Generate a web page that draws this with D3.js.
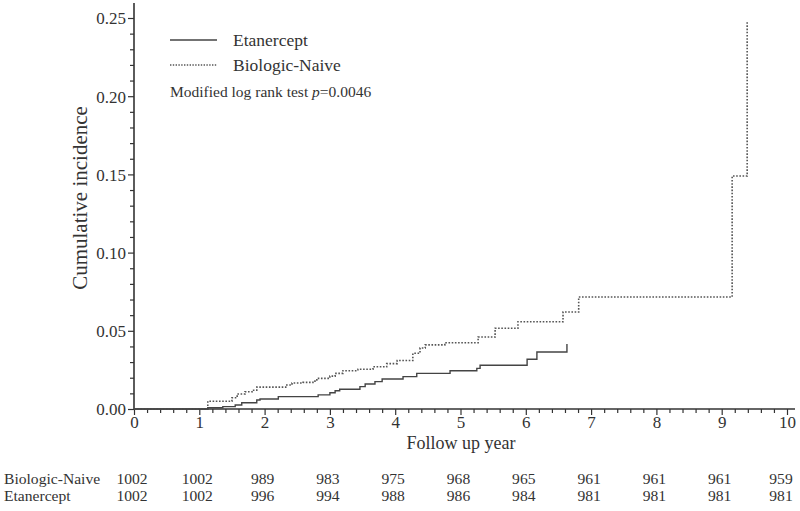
<!DOCTYPE html>
<html>
<head>
<meta charset="utf-8">
<script src="https://cdn.jsdelivr.net/npm/d3@7/dist/d3.min.js"></script>
<style>
html,body{margin:0;padding:0;background:#fff;}
svg{display:block;}
text{font-family:"Liberation Serif","Times New Roman",serif;fill:#333;}
</style>
</head>
<body>
<svg id="chart" width="800" height="511"></svg>
<script>
// Step times (years) and cumulative incidence after each step
const naiveTimes  = [0, 1.13, 1.50, 1.58, 1.70, 1.81, 1.88, 2.34, 2.42, 2.59, 2.74, 2.80, 3.00, 3.08, 3.20, 3.43, 3.66, 3.87, 4.03, 4.27, 4.38, 4.46, 4.76, 5.27, 5.53, 5.88, 6.57, 6.81, 9.16, 9.39];
const naiveValues = [0, 0.005, 0.0072, 0.0096, 0.011, 0.012, 0.014, 0.0153, 0.0166, 0.017, 0.0178, 0.0196, 0.021, 0.0228, 0.0245, 0.0254, 0.027, 0.029, 0.031, 0.0356, 0.039, 0.041, 0.0424, 0.046, 0.0516, 0.0558, 0.062, 0.0716, 0.149, 0.248];
const etanTimes   = [0, 1.13, 1.36, 1.55, 1.65, 1.88, 1.93, 2.21, 2.82, 3.00, 3.08, 3.15, 3.46, 3.54, 3.69, 3.80, 4.12, 4.33, 4.84, 5.25, 5.30, 6.02, 6.17, 6.63];
const etanValues  = [0, 0.0008, 0.0015, 0.0026, 0.004, 0.0058, 0.0064, 0.0079, 0.009, 0.0104, 0.0117, 0.0126, 0.0143, 0.016, 0.0175, 0.0192, 0.0207, 0.0228, 0.0245, 0.026, 0.028, 0.0318, 0.0364, 0.0416];

const xTicks = [0,1,2,3,4,5,6,7,8,9,10];
const yTicks = [0, 0.05, 0.10, 0.15, 0.20, 0.25];
const riskNaive = [1002, 1002, 989, 983, 975, 968, 965, 961, 961, 961, 959];
const riskEtan  = [1002, 1002, 996, 994, 988, 986, 984, 981, 981, 981, 981];
const riskLabels = ["Biologic-Naive", "Etanercept"];
const legendLabels = ["Etanercept", "Biologic-Naive"];

const svg = d3.select("#chart");
const x = d3.scaleLinear().domain([0, 10]).range([134, 787]);
const y = d3.scaleLinear().domain([0, 0.25]).range([409, 18]);
const ink = "#333";

// axes
const yAxis = d3.axisLeft(y).tickValues(yTicks).tickFormat(d3.format(".2f")).tickSize(6).tickSizeOuter(0);
const yMinor = d3.axisLeft(y).tickValues(d3.range(0, 0.26, 0.01).filter(v => Math.abs(v*20 - Math.round(v*20)) > 1e-6)).tickFormat("").tickSize(4).tickSizeOuter(0);
const gy = svg.append("g").attr("transform", "translate(134,0)").call(yAxis);
svg.append("g").attr("transform", "translate(134,0)").call(yMinor).select(".domain").remove();
gy.select(".domain").attr("d", "M0," + y(0) + "V3").attr("stroke", ink).attr("stroke-width", 1.6);
gy.selectAll(".tick text").attr("font-size", 17).attr("font-family", "Liberation Serif").attr("fill", ink).attr("x", -8).attr("dy", "0.35em");

const xAxis = d3.axisBottom(x).tickValues(xTicks).tickFormat(d3.format("d")).tickSize(6).tickSizeOuter(0);
const xMinor = d3.axisBottom(x).tickValues(d3.range(0, 10.01, 0.2).filter(v => Math.abs(v - Math.round(v)) > 1e-6)).tickFormat("").tickSize(4).tickSizeOuter(0);
const gx = svg.append("g").attr("transform", "translate(0," + y(0) + ")").call(xAxis);
svg.append("g").attr("transform", "translate(0," + y(0) + ")").call(xMinor).select(".domain").remove();
gx.select(".domain").attr("d", "M134,0H795").attr("stroke", ink).attr("stroke-width", 1.6);
gx.selectAll(".tick text").attr("font-size", 17).attr("font-family", "Liberation Serif").attr("fill", ink).attr("y", 19).attr("dy", 0);
svg.selectAll(".tick line").attr("stroke", ink).attr("stroke-width", 1.2);

// axis titles
svg.append("text").attr("transform", "translate(87,198) rotate(-90)").attr("text-anchor", "middle")
  .attr("font-size", 21).text("Cumulative incidence");
svg.append("text").attr("x", 461).attr("y", 449).attr("text-anchor", "middle")
  .attr("font-size", 18).text("Follow up year");

// curves
const line = d3.line().x(d => x(d[0])).y(d => y(d[1])).curve(d3.curveStepAfter);
const naive = naiveTimes.map((t, i) => [t, naiveValues[i]]);
const etan = etanTimes.map((t, i) => [t, etanValues[i]]);
svg.append("path").datum(naive).attr("d", line).attr("fill", "none")
  .attr("stroke", "#555").attr("stroke-width", 1.6).attr("stroke-dasharray", "1.6,1.6");
svg.append("path").datum(etan).attr("d", line).attr("fill", "none")
  .attr("stroke", "#444").attr("stroke-width", 1.4);

// legend
const lg = svg.append("g");
lg.append("line").attr("x1", 170).attr("x2", 217).attr("y1", 40).attr("y2", 40).attr("stroke", "#444").attr("stroke-width", 1.4);
lg.append("text").attr("x", 233).attr("y", 46).attr("font-size", 17.5).text(legendLabels[0]);
lg.append("line").attr("x1", 170).attr("x2", 217).attr("y1", 65).attr("y2", 65).attr("stroke", "#555").attr("stroke-width", 1.4).attr("stroke-dasharray", "1.4,1.4");
lg.append("text").attr("x", 233).attr("y", 71).attr("font-size", 17.5).text(legendLabels[1]);
const pt = lg.append("text").attr("x", 170).attr("y", 97).attr("font-size", 15.5);
pt.append("tspan").text("Modified log rank test ");
pt.append("tspan").attr("font-style", "italic").text("p");
pt.append("tspan").text("=0.0046");

// risk table
const rows = [riskNaive, riskEtan];
const rowY = [484, 501];
rows.forEach((r, ri) => {
  svg.append("text").attr("x", 4).attr("y", rowY[ri]).attr("font-size", 15.6).text(riskLabels[ri]);
  svg.selectAll(null).data(r).enter().append("text")
    .attr("x", (d, i) => x(xTicks[i]) - (i === 10 ? 6 : 2))
    .attr("y", rowY[ri]).attr("text-anchor", "middle").attr("font-size", 15.6)
    .text(d => d);
});
</script>
</body>
</html>
